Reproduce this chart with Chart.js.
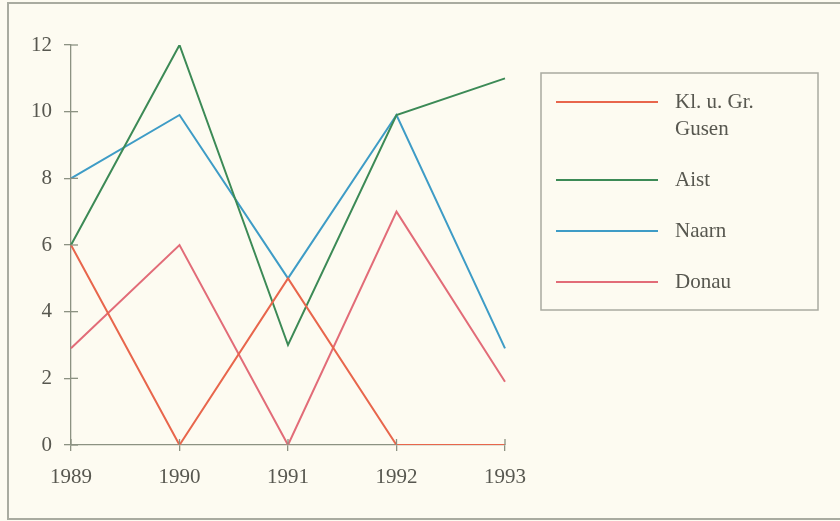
<!DOCTYPE html>
<html>
<head>
<meta charset="utf-8">
<script src="https://cdn.jsdelivr.net/npm/chart.js@4/dist/chart.umd.min.js"></script>
<style>
  html, body { margin: 0; padding: 0; background: #fdfbf1; }
  canvas { display: block; }
</style>
</head>
<body>
<canvas id="c" width="840" height="521"></canvas>
<script>
// Jahre und Messreihen
const years = ['1989', '1990', '1991', '1992', '1993'];
const gusen = [6, 0, 5, 0, 0];
const aist  = [6, 12, 3, 9.9, 11];
const naarn = [8, 9.9, 5, 9.9, 2.9];
const donau = [2.9, 6, 0, 7, 1.9];
const seriesNames = [['Kl. u. Gr.', 'Gusen'], ['Aist'], ['Naarn'], ['Donau']];
const yTicks = [0, 2, 4, 6, 8, 10, 12];

const COLORS = ['#e8664c', '#3c8a56', '#3e9cc6', '#e26c78'];
const AXIS = '#8c9282';
const TEXT = '#57574f';
const FONT = '"Liberation Serif", "Times New Roman", serif';
const FONT_SIZE = 21;

// Hintergrund, Rahmen, Achsenmarken und Legendenkasten
const frame = {
  id: 'frame',
  beforeDraw(chart) {
    const ctx = chart.ctx;
    ctx.save();
    ctx.fillStyle = '#fdfbf1';
    ctx.fillRect(0, 0, chart.width, chart.height);
    ctx.strokeStyle = '#a9aba0';
    ctx.lineWidth = 2;
    ctx.strokeRect(8, 3, 850, 516);
    ctx.restore();
  },
  afterDatasetsDraw(chart) {
    const ctx = chart.ctx;
    const xs = chart.scales.x, ys = chart.scales.y;
    ctx.save();
    ctx.strokeStyle = AXIS;
    ctx.lineWidth = 1.3;
    // Markierungen auf der Innenseite der Achsen
    yTicks.forEach(v => {
      const y = ys.getPixelForValue(v);
      ctx.beginPath();
      ctx.moveTo(xs.left, y);
      ctx.lineTo(xs.left + 7, y);
      ctx.stroke();
    });
    years.forEach((_, i) => {
      const x = xs.getPixelForValue(i);
      ctx.beginPath();
      ctx.moveTo(x, ys.bottom);
      ctx.lineTo(x, ys.bottom - 6);
      ctx.stroke();
    });
    ctx.restore();
  },
  afterDraw(chart) {
    const ctx = chart.ctx;
    ctx.save();
    ctx.strokeStyle = '#a9aba0';
    ctx.lineWidth = 1.5;
    ctx.strokeRect(541, 73, 277, 237);
    const rows = [102, 180, 231, 282];
    ctx.font = FONT_SIZE + 'px ' + FONT;
    ctx.fillStyle = TEXT;
    ctx.textBaseline = 'middle';
    chart.data.datasets.forEach((ds, i) => {
      const y = rows[i];
      ctx.strokeStyle = ds.borderColor;
      ctx.lineWidth = 2;
      ctx.beginPath();
      ctx.moveTo(556, y);
      ctx.lineTo(658, y);
      ctx.stroke();
      const lines = Array.isArray(ds.label) ? ds.label : [ds.label];
      lines.forEach((t, j) => ctx.fillText(t, 675, y + j * 27));
    });
    ctx.restore();
  }
};

new Chart(document.getElementById('c'), {
  type: 'line',
  plugins: [frame],
  data: {
    labels: years,
    datasets: [
      { label: seriesNames[0], data: gusen, borderColor: COLORS[0] },
      { label: seriesNames[1], data: aist,  borderColor: COLORS[1] },
      { label: seriesNames[2], data: naarn, borderColor: COLORS[2] },
      { label: seriesNames[3], data: donau, borderColor: COLORS[3] }
    ]
  },
  options: {
    responsive: false,
    animation: false,
    devicePixelRatio: 1,
    layout: { padding: { left: 8, top: 45, right: 335, bottom: 0 } },
    elements: {
      line: { borderWidth: 2, tension: 0, fill: false },
      point: { radius: 0, hoverRadius: 0 }
    },
    plugins: { legend: { display: false }, tooltip: { enabled: false } },
    scales: {
      x: {
        offset: false,
        grid: { display: true, drawOnChartArea: false, drawTicks: true, tickLength: 6, color: AXIS, lineWidth: 1.3 },
        border: { display: true, color: AXIS, width: 1.3 },
        ticks: { color: TEXT, font: { family: FONT, size: FONT_SIZE }, padding: 14, maxRotation: 0 },
        afterFit(s) { s.height = 76; }
      },
      y: {
        min: 0, max: 12,
        afterBuildTicks(s) { s.ticks = yTicks.map(v => ({ value: v })); },
        grid: { display: true, drawOnChartArea: false, drawTicks: true, tickLength: 7, color: AXIS, lineWidth: 1.3 },
        border: { display: true, color: AXIS, width: 1.3 },
        ticks: { color: TEXT, font: { family: FONT, size: FONT_SIZE }, padding: 12 },
        afterFit(s) { s.width = 63; }
      }
    }
  }
});
</script>
</body>
</html>
